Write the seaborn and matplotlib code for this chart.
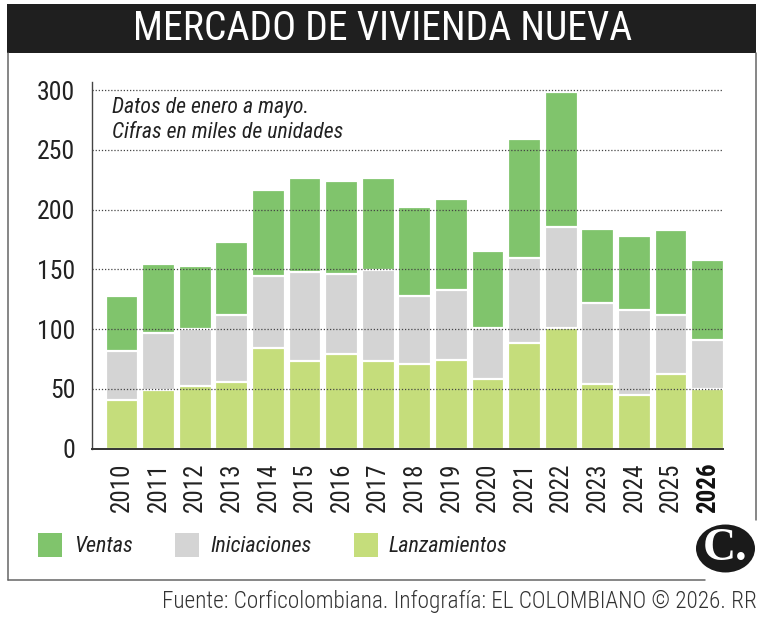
import matplotlib
matplotlib.use("Agg")
import matplotlib.pyplot as plt
from matplotlib.patches import Rectangle, Circle
from matplotlib.lines import Line2D
import seaborn as sns
import pandas as pd

years = ["2010", "2011", "2012", "2013", "2014", "2015", "2016", "2017", "2018",
         "2019", "2020", "2021", "2022", "2023", "2024", "2025", "2026"]
lanzamientos = [41, 49, 52, 56, 84, 73, 79, 73, 71, 74, 58, 88, 101, 54, 45, 62, 50]
iniciaciones = [41, 48, 48, 56, 60, 75, 67, 76, 57, 59, 43, 71, 84, 68, 71, 50, 41]
ventas = [46, 57, 53, 61, 72, 78, 78, 77, 74, 76, 64, 100, 113, 62, 62, 71, 67]
colors = {"Ventas": "#80c46c", "Iniciaciones": "#d4d4d4", "Lanzamientos": "#c5dd7b"}
yticks = [0, 50, 100, 150, 200, 250, 300]

sns.set_theme(style="white")
FAM = ["Roboto Condensed", "IBM Plex Sans Condensed", "Liberation Sans Narrow", "DejaVu Sans"]
plt.rcParams["font.family"] = FAM

W, H = 765, 622
fig = plt.figure(figsize=(W / 100, H / 100), dpi=100)

def fx(x):
    return x / W

def fy(y):
    return 1 - y / H

ax = fig.add_axes([fx(92), fy(448.5), fx(723) - fx(92), fy(82) - fy(448.5)])

df = pd.DataFrame({"year": years, "Lanzamientos": lanzamientos,
                   "Iniciaciones": iniciaciones, "Ventas": ventas})
df["top_lanz"] = df["Lanzamientos"]
df["top_inic"] = df["Lanzamientos"] + df["Iniciaciones"]
df["top_vent"] = df["top_inic"] + df["Ventas"]

for col, name in [("top_vent", "Ventas"), ("top_inic", "Iniciaciones"), ("top_lanz", "Lanzamientos")]:
    sns.barplot(data=df, x="year", y=col, order=years, color=colors[name],
                width=0.9, edgecolor="white", linewidth=1.6, saturation=1,
                ax=ax, zorder=2)

ax.set_xlim(-0.82, 16.42)
ax.set_ylim(0, 306.7)
ax.set_yticks(yticks)
ax.set_yticklabels([str(v) for v in yticks], fontsize=18.5, color="#222222")
ax.set_xlabel("")
ax.set_ylabel("")
ax.tick_params(axis="y", length=0, pad=12)
ax.tick_params(axis="x", length=0, pad=10)
ax.set_xticks(range(len(years)))
ax.set_xticklabels(years, rotation=90, fontsize=18, color="#222222", va="top", ha="center")
for lab in ax.get_xticklabels():
    if lab.get_text() == "2026":
        lab.set_fontweight("bold")
        lab.set_color("#111111")

for v in yticks[1:]:
    ax.axhline(v, color="#444444", linestyle=(0, (1, 1.5)), linewidth=0.9, zorder=2.6)

for s in ["top", "right"]:
    ax.spines[s].set_visible(False)
ax.spines["left"].set_color("#444444")
ax.spines["left"].set_linewidth(1.0)
ax.spines["bottom"].set_color("#333333")
ax.spines["bottom"].set_linewidth(1.4)
ax.spines["left"].set_zorder(3)
ax.spines["bottom"].set_zorder(3)

# Note
ax.text(fx(112), fy(108), "Datos de enero a mayo.", transform=fig.transFigure,
        fontsize=15.7, style="italic", color="#222222", va="center", ha="left")
ax.text(fx(112), fy(133), "Cifras en miles de unidades", transform=fig.transFigure,
        fontsize=15.7, style="italic", color="#222222", va="center", ha="left")

# Title bar
fig.patches.append(Rectangle((fx(7), fy(53)), fx(756) - fx(7), fy(4) - fy(53),
                             transform=fig.transFigure, facecolor="#1f1f1f",
                             edgecolor="none", zorder=0))
fig.text(fx(383), fy(29), "MERCADO DE VIVIENDA NUEVA", color="white",
         fontsize=28.6, ha="center", va="center")

# Frame
lc = "#666666"
fig.lines.append(Line2D([fx(8), fx(8)], [fy(53), fy(580)], transform=fig.transFigure, color=lc, linewidth=1.1))
fig.lines.append(Line2D([fx(8), fx(705)], [fy(580), fy(580)], transform=fig.transFigure, color=lc, linewidth=1.1))
fig.lines.append(Line2D([fx(756), fx(756)], [fy(53), fy(520)], transform=fig.transFigure, color=lc, linewidth=1.1))

# Legend
leg_items = [("Ventas", 38, 74), ("Iniciaciones", 175, 210), ("Lanzamientos", 354, 388)]
for name, sx, tx in leg_items:
    fig.patches.append(Rectangle((fx(sx), fy(557)), fx(24), fy(533) - fy(557),
                                 transform=fig.transFigure, facecolor=colors[name],
                                 edgecolor="none"))
    fig.text(fx(tx), fy(546), name, fontsize=15.9, style="italic", color="#222222",
             ha="left", va="center")

# Logo
fig.patches.append(Circle((fx(725.5), fy(548.5)), 29.5 / W, transform=fig.transFigure,
                          facecolor="#1a1a1a", edgecolor="none"))
fig.text(fx(725), fy(549), "C.", color="white", fontsize=33,
         fontweight="bold", family=["Liberation Serif", "DejaVu Serif"],
         ha="center", va="center")

# Footer
fig.text(fx(757), fy(601), "Fuente: Corficolombiana. Infografía: EL COLOMBIANO © 2026. RR",
         fontsize=16.75, fontweight="light", color="#333333", ha="right", va="center")

fig.savefig("out.png", dpi=100, facecolor="white")
